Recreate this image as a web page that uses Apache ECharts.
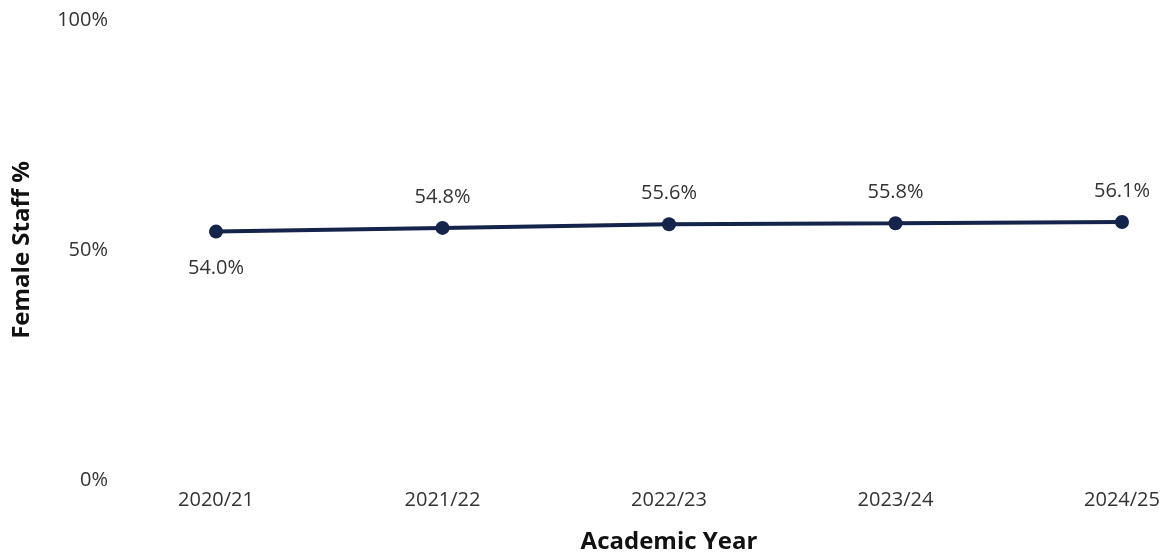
<!DOCTYPE html>
<html>
<head>
<meta charset="utf-8">
<style>
  html, body { margin: 0; padding: 0; background: #ffffff; }
  #chart { width: 1168px; height: 557px; }
</style>
<script src="https://cdn.jsdelivr.net/npm/echarts@6/dist/echarts.min.js"></script>
</head>
<body>
<div id="chart"></div>
<script>
// Share of female staff by academic year
const years = ['2020/21', '2021/22', '2022/23', '2023/24', '2024/25'];
const femalePct = [54.0, 54.8, 55.6, 55.8, 56.1];
const yTicks = [0, 50, 100];

const FONT = '"Open Sans", "Noto Sans", sans-serif';
const LINE = '#14244a';

const chart = echarts.init(document.getElementById('chart'));
chart.setOption({
  animation: false,
  grid: {
    left: 216, right: 46, top: 20, bottom: 77,
    containLabel: false, outerBoundsMode: 'none'
  },
  xAxis: {
    type: 'category',
    data: years,
    boundaryGap: false,
    name: 'Academic Year',
    nameLocation: 'middle',
    nameGap: 50,
    nameTextStyle: { fontFamily: FONT, fontSize: 24, fontWeight: 'bold', color: '#111' },
    axisLine: { show: false },
    axisTick: { show: false },
    axisLabel: { fontFamily: FONT, fontSize: 20, color: '#333', margin: 10 }
  },
  yAxis: {
    type: 'value',
    min: 0,
    max: 100,
    interval: 50,
    name: 'Female Staff %',
    nameLocation: 'middle',
    nameGap: 182,
    nameRotate: 90,
    nameTextStyle: { fontFamily: FONT, fontSize: 24, fontWeight: 'bold', color: '#111' },
    axisLine: { show: false },
    axisTick: { show: false },
    splitLine: { show: false },
    axisLabel: {
      fontFamily: FONT, fontSize: 20, color: '#333', margin: 108,
      formatter: v => (yTicks.includes(v) ? v + '%' : '')
    }
  },
  series: [{
    type: 'line',
    data: femalePct.map((v, i) => ({
      value: v,
      label: i === 0 ? { position: 'bottom', distance: 20 } : { position: 'top' }
    })),
    symbol: 'circle',
    symbolSize: 14,
    lineStyle: { color: LINE, width: 4 },
    itemStyle: { color: LINE },
    label: {
      show: true,
      distance: 14,
      fontFamily: FONT,
      fontSize: 20,
      color: '#333',
      formatter: p => p.value.toFixed(1) + '%'
    }
  }]
});
</script>
</body>
</html>
